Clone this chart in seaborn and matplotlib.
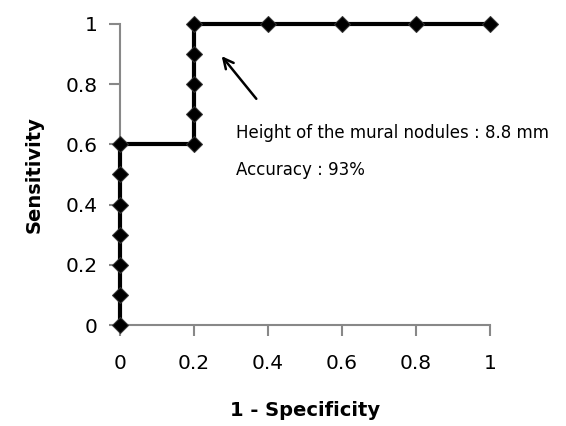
import matplotlib
matplotlib.use('Agg')
import matplotlib.pyplot as plt
import seaborn as sns
import pandas as pd

# ROC points
fpr = [0, 0, 0, 0, 0, 0, 0, 0.2, 0.2, 0.2, 0.2, 0.2, 0.4, 0.6, 0.8, 1.0]
tpr = [0, 0.1, 0.2, 0.3, 0.4, 0.5, 0.6, 0.6, 0.7, 0.8, 0.9, 1.0, 1.0, 1.0, 1.0, 1.0]
ticks = [0, 0.2, 0.4, 0.6, 0.8, 1]
tick_labels = ['0', '0.2', '0.4', '0.6', '0.8', '1']

df = pd.DataFrame({'fpr': fpr, 'tpr': tpr})

sns.set_style('white')
plt.rcParams['font.family'] = ['DejaVu Sans']
plt.rcParams['text.color'] = 'black'
plt.rcParams['axes.labelcolor'] = 'black'

fig = plt.figure(figsize=(5.66, 4.26), dpi=100)
ax = fig.add_axes([0.212, 0.237, 0.654, 0.707])

sns.lineplot(data=df, x='fpr', y='tpr', sort=False, estimator=None, errorbar=None,
             color='black', linewidth=3, marker='D', markersize=8.5,
             markeredgecolor='#333333', ax=ax, clip_on=False)

ax.set_xlim(0, 1)
ax.set_ylim(0, 1)
ax.set_xticks(ticks)
ax.set_xticklabels(tick_labels)
ax.set_yticks(ticks)
ax.set_yticklabels(tick_labels)
for s in ['top', 'right']:
    ax.spines[s].set_visible(False)
for s in ['left', 'bottom']:
    ax.spines[s].set_color('#888888')
    ax.spines[s].set_linewidth(1.5)
    ax.spines[s].set_zorder(0)
ax.tick_params(axis='both', bottom=True, left=True, direction='out', length=8, width=1.5,
               color='#888888', labelsize=14.5, labelcolor='black')
ax.tick_params(axis='x', pad=13)
ax.tick_params(axis='y', pad=8)

ax.set_xlabel('1 - Specificity', fontsize=14, fontweight='bold', labelpad=20)
ax.set_ylabel('Sensitivity', fontsize=14, fontweight='bold', labelpad=16)

ax.annotate('', xy=(0.27, 0.9), xytext=(0.373, 0.744),
            arrowprops=dict(arrowstyle='->', color='black', lw=1.8, mutation_scale=18))
ax.text(0.314, 0.638, 'Height of the mural nodules : 8.8 mm', fontsize=12, va='center')
ax.text(0.314, 0.515, 'Accuracy : 93%', fontsize=12, va='center')

fig.savefig('out.png', dpi=100)
